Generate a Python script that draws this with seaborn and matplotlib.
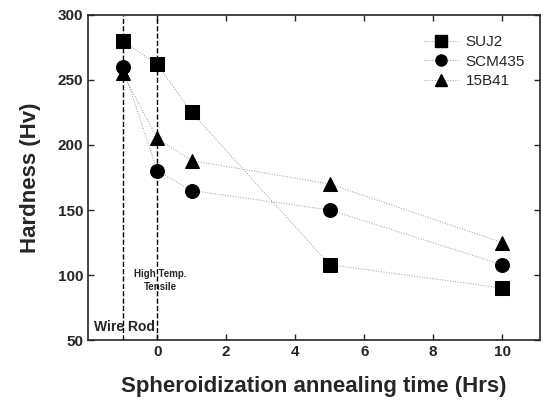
import numpy as np
import pandas as pd
import matplotlib
matplotlib.use("Agg")
import matplotlib.pyplot as plt
import seaborn as sns

# annealing time (hrs), -1 = wire rod, 0 = high temp. tensile
time_hrs = [-1, 0, 1, 5, 10]
suj2 = [280, 262, 225, 108, 90]
scm435 = [260, 180, 165, 150, 108]
b15b41 = [255, 205, 188, 170, 125]
steels = ["SUJ2", "SCM435", "15B41"]

df = pd.DataFrame({
    "time": time_hrs * 3,
    "hv": suj2 + scm435 + b15b41,
    "steel": [s for s in steels for _ in time_hrs],
})

sns.set_style("ticks")
plt.rcParams["font.family"] = ["Liberation Sans", "DejaVu Sans"]

fig = plt.figure(figsize=(5.45, 4.03), dpi=100)
ax = fig.add_axes([0.162, 0.156, 0.829, 0.807])

sns.lineplot(data=df, x="time", y="hv", style="steel", markers=["s", "o", "^"],
             dashes=False, color="black", markersize=10, linewidth=0.7,
             ax=ax, legend=False)
for l in ax.lines:
    l.set_color("#999999")
    l.set_linestyle(":")
    l.set_markerfacecolor("black")
    l.set_markeredgecolor("black")

# dashed guide lines
ax.axvline(-1, color="black", ls="--", lw=1)
ax.axvline(0, color="black", ls="--", lw=1)
ax.text(-0.95, 55, "Wire Rod", fontsize=10, fontweight="bold", ha="center", va="bottom")
ax.text(0.1, 105, "High Temp.\nTensile", fontsize=7, fontweight="bold", ha="center",
        va="top", linespacing=1.4)

# legend
from matplotlib.lines import Line2D
handles = [Line2D([], [], color="#999999", ls=":", marker=m, mfc="black", mec="black",
                  markersize=8, lw=0.7) for m in ["s", "o", "^"]]
ax.legend(handles, steels, loc="upper right", bbox_to_anchor=(0.99, 0.97), frameon=False,
          fontsize=11, handlelength=2.2, labelspacing=0.35, borderpad=0.2, handletextpad=0.5)

ax.set_xlim(-2, 11.1)
ax.set_ylim(50, 300)
ax.set_xticks([0, 2, 4, 6, 8, 10])
ax.set_yticks([50, 100, 150, 200, 250, 300])
ax.tick_params(direction="in", top=True, right=True, labelsize=11, width=1, length=4)
for lab in ax.get_xticklabels() + ax.get_yticklabels():
    lab.set_fontweight("bold")
for s in ax.spines.values():
    s.set_linewidth(1.2)
ax.set_xlabel("Spheroidization annealing time (Hrs)", fontsize=16, fontweight="bold", labelpad=12)
ax.set_ylabel("Hardness (Hv)", fontsize=16, fontweight="bold", labelpad=12)

fig.savefig("out.png", dpi=100)
